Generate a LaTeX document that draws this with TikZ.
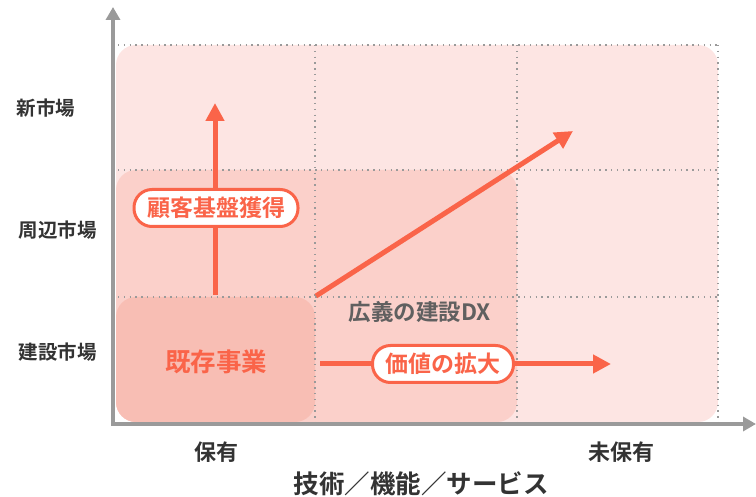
\documentclass[tikz,border=0pt]{standalone}
\usepackage{fontspec}
\setmainfont{Noto Sans CJK JP}[BoldFont={* Bold}]
\usetikzlibrary{arrows.meta}
\definecolor{tom}{HTML}{FA6449}
\definecolor{pinkA}{HTML}{FDE5E3}
\definecolor{pinkB}{HTML}{FBD0CA}
\definecolor{pinkC}{HTML}{F8BEB4}
\definecolor{axisgrey}{HTML}{9A9A9A}
\definecolor{txtgrey}{HTML}{333333}
\definecolor{dxgrey}{HTML}{606060}
\tikzset{
  axisline/.style={draw=axisgrey,line width=3.5pt,-{Triangle[length=13pt,width=14pt]}},
  gridline/.style={draw=axisgrey,line width=1.4pt,dash pattern=on 1.4pt off 4.4pt},
  bigarrow/.style={draw=tom,line width=5pt,-{Triangle[length=18pt,width=18pt]}},
  pill/.style={draw=tom,line width=3pt,fill=white,rounded corners=18pt,minimum height=37pt,inner xsep=13pt,text=tom,font=\bfseries\fontsize{23}{23}\selectfont},
  ylab/.style={text=txtgrey,font=\bfseries\fontsize{19.5}{19.5}\selectfont},
  xlab/.style={text=txtgrey,font=\bfseries\fontsize{22}{22}\selectfont},
}
\begin{document}
\begin{tikzpicture}[x=1pt,y=-1pt]
\useasboundingbox (0,0) rectangle (756,497);
% regions
\fill[pinkA,rounded corners=20pt] (116,45) rectangle (718,422);
\fill[pinkB,rounded corners=20pt] (116,170) rectangle (517,422);
\fill[pinkC,rounded corners=20pt] (116,297) rectangle (315,422);
% grid
\foreach \y in {45,170,297} \draw[gridline] (118,\y) -- (718,\y);
\foreach \x in {315,517,718} \draw[gridline] (\x,45) -- (\x,422);
% axes
\coordinate (ytip) at (113,7);
\coordinate (xtip) at (756,424);
\draw[axisline] (113,426) -- (ytip);
\draw[axisline] (111,424) -- (xtip);
% y labels
\node[ylab] (l1) at (46,108) {新市場};
\node[ylab] (l2) at (58,230) {周辺市場};
\node[ylab] (l3) at (58,352) {建設市場};
% x labels
\node[xlab] (b1) at (216,452) {保有};
\node[xlab] (b2) at (621,452) {未保有};
\node[text=txtgrey,font=\bfseries\fontsize{25.5}{25.5}\selectfont] (bx) at (421,484) {技術／機能／サービス};
% center text
\node[text=tom,font=\bfseries\fontsize{25.5}{25.5}\selectfont] (kz) at (216,362) {既存事業};
\node[text=dxgrey,font=\bfseries\fontsize{22.5}{22.5}\selectfont] (dx) at (420,312) {広義の建設DX};
% arrows
\coordinate (v0) at (215,295);
\coordinate (v1) at (215,103);
\draw[bigarrow] (v0) -- (v1);
\coordinate (d0) at (316,296);
\coordinate (d1) at (573,131);
\draw[bigarrow] (d0) -- (d1);
\coordinate (h0) at (320,364);
\coordinate (h1) at (611,364);
\draw[bigarrow] (h0) -- (h1);
% pills
\node[pill] (p1) at (216,208) {顧客基盤獲得};
\node[pill] (p2) at (443,364) {価値の拡大};
\end{tikzpicture}
\end{document}
